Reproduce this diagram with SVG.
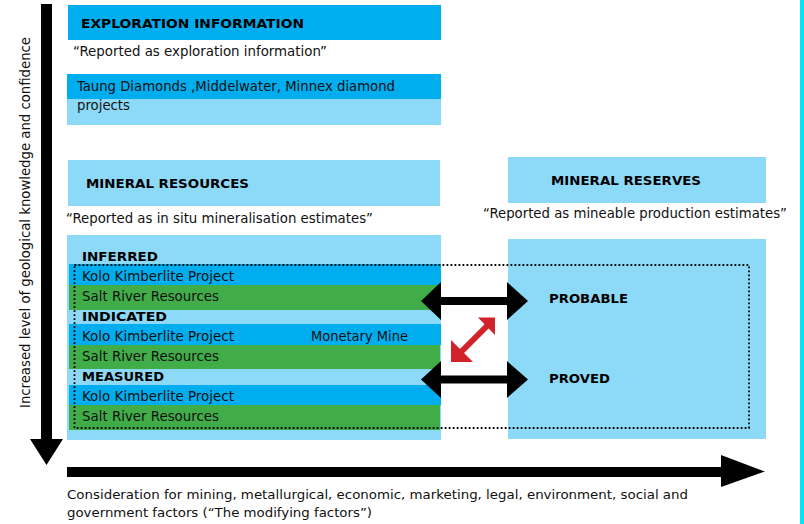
<svg xmlns="http://www.w3.org/2000/svg" width="804" height="524" viewBox="0 0 804 524">
<style>
  .dark{fill:#00AEEF}
  .light{fill:#8DD9F8}
  .green{fill:#41AD49}
  .t{font-family:"DejaVu Sans Condensed","DejaVu Sans","Noto Sans",sans-serif;font-size:13.5px;fill:#111}
  .b{font-family:"DejaVu Sans","Noto Sans",sans-serif;font-size:13px;font-weight:bold;fill:#000}
  .c{font-family:"DejaVu Sans Condensed","DejaVu Sans",sans-serif;font-size:13px;fill:#111}
  .dots{fill:none;stroke:#000;stroke-width:1.8;stroke-dasharray:1.8 2.2}
</style>
<rect width="804" height="524" fill="#fff"/>
<rect x="800" y="0" width="4" height="524" fill="#00E5FA"/>

<g id="exploration">
  <rect class="dark" x="68" y="5" width="373" height="35"/>
  <text class="b" x="81" y="28" textLength="223" lengthAdjust="spacingAndGlyphs">EXPLORATION INFORMATION</text>
  <text class="t" x="73" y="55.5" textLength="254" lengthAdjust="spacingAndGlyphs">“Reported as exploration information”</text>
</g>

<g id="taung">
  <rect class="light" x="67" y="74" width="374" height="51"/>
  <rect class="dark" x="67" y="74" width="374" height="25"/>
  <text class="t" x="77" y="91" textLength="318" lengthAdjust="spacingAndGlyphs">Taung Diamonds ,Middelwater, Minnex diamond</text>
  <text class="t" x="77" y="110" textLength="53" lengthAdjust="spacingAndGlyphs">projects</text>
</g>

<g id="resources">
  <rect class="light" x="68" y="160" width="372" height="46"/>
  <text class="b" x="86" y="188" textLength="163" lengthAdjust="spacingAndGlyphs">MINERAL RESOURCES</text>
  <text class="t" x="66" y="223" textLength="307" lengthAdjust="spacingAndGlyphs">“Reported as in situ mineralisation estimates”</text>
</g>

<g id="resource-categories">
  <rect class="light" x="67" y="235" width="374" height="205"/>
  <text class="b" x="82" y="261" textLength="76" lengthAdjust="spacingAndGlyphs">INFERRED</text>
  <rect class="dark" x="69" y="264" width="372" height="21"/>
  <text class="t" x="82" y="280.5" textLength="152" lengthAdjust="spacingAndGlyphs">Kolo Kimberlite Project</text>
  <rect class="green" x="69" y="285" width="371" height="25"/>
  <text class="t" x="82" y="300.5" textLength="137" lengthAdjust="spacingAndGlyphs">Salt River Resources</text>
  <text class="b" x="82" y="320.5" textLength="85" lengthAdjust="spacingAndGlyphs">INDICATED</text>
  <rect class="dark" x="69" y="324" width="372" height="21"/>
  <text class="t" x="82" y="340.5" textLength="152" lengthAdjust="spacingAndGlyphs">Kolo Kimberlite Project</text>
  <text class="t" x="311" y="340.5" textLength="97" lengthAdjust="spacingAndGlyphs">Monetary Mine</text>
  <rect class="green" x="69" y="345" width="371" height="24"/>
  <text class="t" x="82" y="360.5" textLength="137" lengthAdjust="spacingAndGlyphs">Salt River Resources</text>
  <text class="b" x="82" y="380.5" textLength="82" lengthAdjust="spacingAndGlyphs">MEASURED</text>
  <rect class="dark" x="69" y="385" width="372" height="20"/>
  <text class="t" x="82" y="400.5" textLength="152" lengthAdjust="spacingAndGlyphs">Kolo Kimberlite Project</text>
  <rect class="green" x="69" y="405" width="371" height="25"/>
  <text class="t" x="82" y="420.5" textLength="137" lengthAdjust="spacingAndGlyphs">Salt River Resources</text>
</g>

<g id="reserves">
  <rect class="light" x="508" y="157" width="258" height="46"/>
  <text class="b" x="551" y="185" textLength="150" lengthAdjust="spacingAndGlyphs">MINERAL RESERVES</text>
  <text class="t" x="483" y="217.5" textLength="304" lengthAdjust="spacingAndGlyphs">“Reported as mineable production estimates”</text>
</g>

<g id="reserve-categories">
  <rect class="light" x="508" y="239" width="258" height="200"/>
  <text class="b" x="549" y="302.5" textLength="79" lengthAdjust="spacingAndGlyphs">PROBABLE</text>
  <text class="b" x="549" y="383" textLength="61" lengthAdjust="spacingAndGlyphs">PROVED</text>
</g>

<g id="dotted-frame">
  <rect class="dots" x="74.5" y="265" width="674.5" height="163"/>
</g>

<g id="axis-labels">
  <text class="t" transform="translate(29.5,408) rotate(-90)" x="0" y="0" textLength="371" lengthAdjust="spacingAndGlyphs">Increased level of geological knowledge and confidence</text>
  <text class="c" x="67" y="499.3" textLength="621" lengthAdjust="spacingAndGlyphs">Consideration for mining, metallurgical, economic, marketing, legal, environment, social and</text>
  <text class="c" x="67" y="517.3" textLength="305" lengthAdjust="spacingAndGlyphs">government factors (“The modifying factors”)</text>
</g>

<g id="connectors">
  <polygon fill="#000" points="41,4 52,4 52,439 63,439 46.5,465 30,439 41,439"/>
  <polygon fill="#000" points="67,467 721,467 721,455 765,471.5 721,487 721,477 67,477"/>
  <polygon fill="#000" points="421,301 441,282 441,297 507,297 507,282 528,301 507,320 507,305 441,305 441,320"/>
  <polygon fill="#000" points="421,379.5 441,361 441,375.5 507,375.5 507,361 528,379.5 507,398 507,383.5 441,383.5 441,398"/>
  <g fill="#D2232A">
    <line x1="488" y1="325" x2="459" y2="354" stroke="#D2232A" stroke-width="6"/>
    <polygon points="495,317.5 478,317.5 495,335"/>
    <polygon points="451,362 451,340 473,362"/>
  </g>
</g>
</svg>
